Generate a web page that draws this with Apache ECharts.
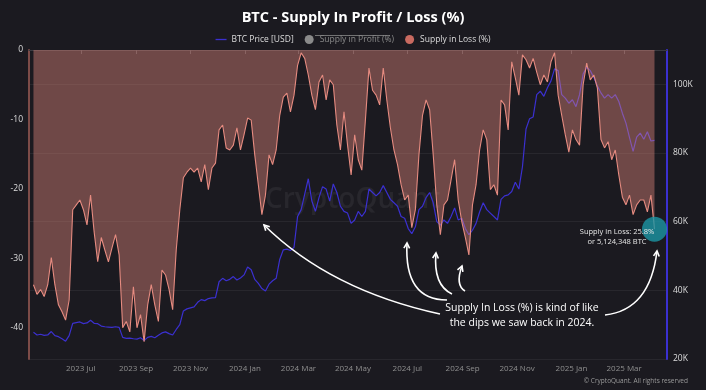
<!DOCTYPE html>
<html><head><meta charset="utf-8">
<script src="https://cdn.jsdelivr.net/npm/echarts@6/dist/echarts.min.js"></script>
<style>html,body{margin:0;padding:0;background:#1b1a20;}#c{width:706px;height:390px;}</style>
</head><body><div id="c"></div>
<script>
// Data: one sample every 4 days starting 2023-05-09
const startYear = 2023, startMonth = 4, startDay = 9, stepDays = 4;
const supplyInLoss = [
-33.8,-35.2,-34.5,-35.5,-33.8,-29.9,-33.8,-36.7,-37.7,-38.9,
-36.0,-23.0,-22.3,-21.6,-23.0,-25.2,-20.9,-26.2,-30.5,-27.0,
-28.8,-30.5,-28.5,-26.6,-29.5,-40.0,-39.1,-40.6,-34.1,-40.0,
-38.1,-42.0,-36.7,-33.8,-36.7,-39.1,-31.7,-32.4,-34.5,-37.4,
-28.8,-23.0,-18.4,-17.6,-17.0,-17.6,-17.0,-19.0,-16.5,-20.1,
-17.0,-16.3,-11.5,-10.8,-14.1,-14.4,-13.7,-11.2,-14.4,-12.2,
-9.8,-10.1,-15.1,-19.4,-23.7,-20.9,-15.1,-16.5,-14.4,-9.4,
-6.8,-6.2,-8.9,-6.5,-2.2,-0.4,-1.2,-3.6,-6.5,-8.6,
-4.6,-3.6,-7.2,-4.3,-5.0,-10.8,-14.4,-8.9,-13.7,-18.0,
-12.2,-15.8,-17.3,-10.1,-2.6,-5.8,-6.5,-7.9,-2.6,-7.2,
-11.2,-14.4,-16.5,-19.4,-21.6,-20.9,-25.6,-23.0,-15.1,-9.4,
-7.2,-8.6,-15.1,-22.3,-26.6,-22.3,-21.6,-18.7,-15.8,-21.6,
-24.7,-27.0,-29.5,-22.3,-19.4,-14.4,-11.5,-12.9,-20.1,-19.4,
-20.9,-7.2,-7.9,-11.5,-1.7,-4.0,-6.5,-0.7,-1.4,-2.6,
-1.2,-3.2,-5.0,-3.6,-4.6,-1.7,-0.4,-6.5,-9.4,-12.2,
-14.7,-11.5,-12.9,-13.7,-5.0,-1.9,-4.3,-3.6,-5.5,-12.9,
-14.1,-13.2,-15.8,-14.4,-18.0,-21.2,-22.3,-20.9,-23.7,-22.3,
-21.6,-21.6,-23.3,-20.9,-25.8
];
const btcPriceK = [
27.8,27.0,27.2,26.9,27.0,28.0,26.8,26.5,25.9,25.2,
26.8,30.4,30.6,30.8,30.3,30.5,31.3,30.4,30.3,29.6,
29.4,29.3,29.2,29.4,29.2,26.3,26.0,26.1,25.9,25.8,
26.2,25.4,26.3,26.6,26.2,26.9,27.6,27.9,27.4,27.0,
28.6,30.0,34.0,34.6,34.9,35.2,36.5,37.3,37.0,37.6,
37.8,37.9,42.5,43.5,42.8,43.2,44.0,43.0,43.6,44.5,
46.8,46.0,43.2,42.0,40.5,39.8,41.8,42.8,43.5,49.0,
51.8,52.0,51.6,52.5,61.5,63.5,68.0,72.5,66.0,63.0,
67.0,70.2,69.5,66.0,71.0,68.5,64.5,63.0,62.5,59.5,
60.5,63.0,61.5,63.0,69.5,68.5,67.5,68.5,70.5,68.5,
66.5,65.5,64.5,61.5,61.0,58.0,56.5,58.5,63.5,64.5,
67.0,68.5,65.5,60.0,59.0,60.5,59.5,61.5,64.0,60.5,
61.0,58.0,56.2,57.5,59.5,62.8,65.5,63.5,62.5,61.5,
60.5,66.5,67.5,67.8,68.8,71.5,69.5,76.0,87.0,90.0,
90.5,97.0,98.0,96.5,99.0,101.0,104.5,104.0,97.0,96.0,
94.5,95.5,93.5,97.0,103.0,105.0,104.0,102.0,99.5,97.5,
96.0,97.0,96.0,97.0,95.0,91.6,88.7,84.5,80.5,84.6,
85.8,84.0,86.2,83.5,83.7
];
const xTickMonths = [[2023,6],[2023,8],[2023,10],[2024,0],[2024,2],[2024,4],[2024,6],[2024,8],[2024,10],[2025,0],[2025,2]];
const monthNames = ['Jan','Feb','Mar','Apr','May','Jun','Jul','Aug','Sep','Oct','Nov','Dec'];
const leftTicks = [0,-10,-20,-30,-40];
const rightTicks = [20,40,60,80,100];
const lossLabel = ['Supply in Loss: 25.8%', 'or 5,124,348 BTC'];
const noteLines = ['Supply In Loss (%) is kind of like', 'the dips we saw back in 2024.'];

const dates = supplyInLoss.map((_, i) => new Date(startYear, startMonth, startDay + i * stepDays).getTime());
const lossData = supplyInLoss.map((v, i) => [dates[i], v]);
const priceData = btcPriceK.map((v, i) => [dates[i], v]);
const xTicks = xTickMonths.map(([y, m]) => new Date(y, m, 1).getTime());
const lastIdx = supplyInLoss.length - 1;

const FONT = '"Open Sans", "Noto Sans", sans-serif';
const chart = echarts.init(document.getElementById('c'), null, {renderer: 'canvas'});

function arrow(x1, y1, cx, cy, x2, y2) {
  const dx = x2 - cx, dy = y2 - cy, L = Math.hypot(dx, dy);
  const ux = dx / L, uy = dy / L, len = 6, a = 0.5;
  const c = Math.cos(a), s = Math.sin(a);
  const bx = -ux, by = -uy;
  const p1 = [x2 + len * (bx * c - by * s), y2 + len * (bx * s + by * c)];
  const p2 = [x2 + len * (bx * c + by * s), y2 + len * (-bx * s + by * c)];
  return [
    {type: 'bezierCurve', z: 100, shape: {x1, y1, x2, y2, cpx1: cx, cpy1: cy}, style: {stroke: '#fff', lineWidth: 1.6, fill: null}},
    {type: 'polyline', z: 100, shape: {points: [p1, [x2, y2], p2]}, style: {stroke: '#fff', lineWidth: 1.6, fill: null}}
  ];
}

const graphics = [
  {type: 'text', z: 1, left: 265, top: 186, style: {text: 'CryptoQuant', fill: 'rgba(255,255,255,0.06)', font: '600 28px ' + FONT}},
  {type: 'line', z: 100, shape: {x1: 315, y1: 35.5, x2: 390, y2: 35.5}, style: {stroke: '#8a8a8a', lineWidth: 0.8}},
  ...arrow(440, 314, 330, 290, 264, 225),
  ...arrow(447, 300, 404, 300, 407, 243),
  ...arrow(452, 294, 433, 285, 436, 253),
  ...arrow(465, 291, 455, 285, 462, 266),
  ...arrow(605, 315, 650, 310, 657, 251),
  {type: 'text', z: 100, x: 522, y: 308, style: {text: noteLines[0], fill: '#fff', font: '10.5px ' + FONT, textAlign: 'center', textVerticalAlign: 'middle'}},
  {type: 'text', z: 100, x: 522, y: 323, style: {text: noteLines[1], fill: '#fff', font: '10.5px ' + FONT, textAlign: 'center', textVerticalAlign: 'middle'}},
  {type: 'text', z: 100, x: 617, y: 232, style: {text: lossLabel[0], fill: '#e6e6e6', font: '7.5px ' + FONT, textAlign: 'center', textVerticalAlign: 'middle'}},
  {type: 'text', z: 100, x: 617, y: 242, style: {text: lossLabel[1], fill: '#e6e6e6', font: '7.5px ' + FONT, textAlign: 'center', textVerticalAlign: 'middle'}},
  {type: 'text', z: 100, x: 688, y: 381, style: {text: '© CryptoQuant. All rights reserved', fill: '#9a9a9a', font: '6.5px ' + FONT, textAlign: 'right', textVerticalAlign: 'middle'}}
];

chart.setOption({
  backgroundColor: '#1b1a20',
  animation: false,
  title: {text: 'BTC - Supply In Profit / Loss (%)', left: 'center', top: 5,
    textStyle: {color: '#ffffff', fontSize: 14.5, fontWeight: 'bold', fontFamily: FONT}},
  legend: {
    top: 30, left: 'center', itemWidth: 11, itemHeight: 9, itemGap: 11,
    textStyle: {color: '#dddddd', fontSize: 8.5, fontFamily: FONT},
    inactiveColor: '#8a8a8a',
    selected: {'Supply in Profit (%)': false},
    data: [
      {name: 'BTC Price [USD]', icon: 'path://M0,0h20v2.4h-20z', itemStyle: {color: '#3b30d0'}},
      {name: 'Supply in Profit (%)', icon: 'circle'},
      {name: 'Supply in Loss (%)', icon: 'circle', itemStyle: {color: '#c96a60'}}
    ]
  },
  grid: {left: 29, right: 39, top: 50, bottom: 31},
  xAxis: {
    type: 'value',
    min: new Date(2023, 4, 4).getTime(),
    max: new Date(2025, 3, 18).getTime(),
    axisLine: {lineStyle: {color: '#3a3a40'}},
    axisTick: {show: true, customValues: xTicks, length: 4, lineStyle: {color: '#4a4a50'}},
    axisLabel: {customValues: xTicks, color: '#8f8f8f', fontSize: 8, fontFamily: FONT, margin: 6,
      formatter: v => { const d = new Date(v); return d.getFullYear() + ' ' + monthNames[d.getMonth()]; }},
    splitLine: {show: false}
  },
  yAxis: [
    {type: 'value', position: 'left', min: -44.5, max: 0,
      axisLine: {show: true, lineStyle: {color: '#7d4c48', width: 2}},
      axisTick: {show: false},
      axisLabel: {customValues: leftTicks, color: '#dddddd', fontSize: 8.5, fontFamily: FONT, margin: 6},
      splitLine: {show: false}},
    {type: 'value', position: 'right', min: 20, max: 110, interval: 20,
      axisLine: {show: true, lineStyle: {color: '#3b30d0', width: 2}},
      axisTick: {show: false},
      axisLabel: {customValues: rightTicks, color: '#dddddd', fontSize: 8.5, fontFamily: FONT, margin: 6, formatter: v => v + 'K'},
      splitLine: {show: true, lineStyle: {color: 'rgba(255,255,255,0.06)'}}}
  ],
  series: [
    {name: 'BTC Price [USD]', type: 'line', yAxisIndex: 1, data: priceData, symbol: 'none', z: 2,
      lineStyle: {color: '#3b30d0', width: 1.2}, itemStyle: {color: '#3b30d0'}},
    {name: 'Supply in Profit (%)', type: 'line', yAxisIndex: 0, data: [], symbol: 'none', itemStyle: {color: '#999'}},
    {name: 'Supply in Loss (%)', type: 'line', yAxisIndex: 0, data: lossData, symbol: 'none', z: 3,
      lineStyle: {color: '#e68b80', width: 1.1}, itemStyle: {color: '#e68b80'},
      areaStyle: {color: 'rgba(232,140,128,0.58)', origin: 'end'},
      markPoint: {symbol: 'circle', symbolSize: 25, silent: true, label: {show: false},
        itemStyle: {color: 'rgba(28,150,165,0.8)'},
        data: [{coord: [dates[lastIdx], supplyInLoss[lastIdx]]}]}}
  ],
  graphic: graphics
});
</script></body></html>
